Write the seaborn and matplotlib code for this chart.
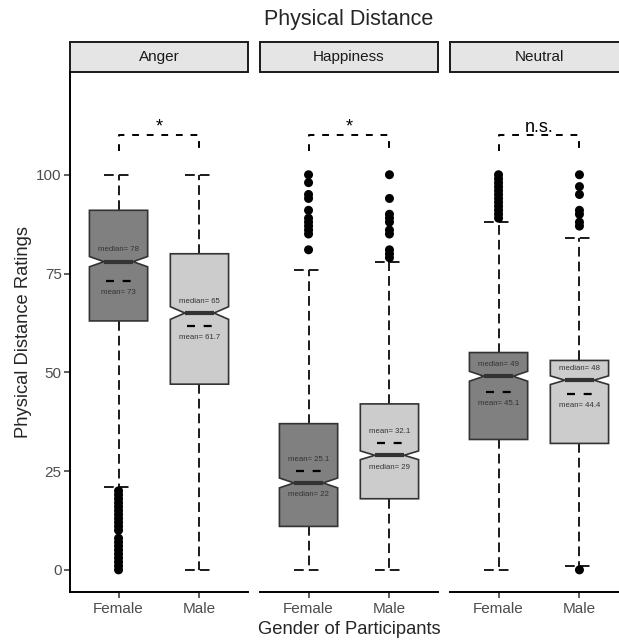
import numpy as np
import matplotlib
matplotlib.use('Agg')
import matplotlib.pyplot as plt
from matplotlib.patches import Rectangle
import seaborn as sns

# values (Physical Distance ratings)
emotions = ['Anger', 'Happiness', 'Neutral']
genders = ['Female', 'Male']
q1 = [[63, 47], [11, 18], [33, 32]]
med = [[78, 65], [22, 29], [49, 48]]
q3 = [[91, 80], [37, 42], [55, 53]]
whislo = [[21, 0], [0, 0], [0, 1]]
whishi = [[100, 100], [76, 78], [88, 84]]
means = [[73, 61.7], [25.1, 32.1], [45.1, 44.4]]
notch_half = [[1.3, 1.6], [1.25, 1.1], [1.25, 1.1]]
outliers = [
    [[0, 1, 2, 3, 4, 5, 6, 7, 8, 10, 11, 12, 13, 14, 15, 16, 17, 18, 19, 20], []],
    [[100, 98, 95, 94, 91, 89, 88, 87, 86, 85, 81], [100, 94, 90, 89, 88, 86, 85, 81, 80, 79]],
    [[100, 99, 98, 97, 96, 95, 94, 93, 92, 91, 90, 89], [100, 97, 95, 91, 90, 88, 87, 0]],
]
sig_labels = ['*', '*', 'n.s.']

box_colors = ['#808080', '#cccccc']

sns.set_theme(style='white')
plt.rcParams['font.family'] = ['Liberation Sans', 'DejaVu Sans']

W, H = 619, 642
fig = plt.figure(figsize=(W / 100, H / 100), dpi=100)
fig.patch.set_facecolor('white')

panel_left = [70, 260, 450]
panel_w, top_px, bot_px = 178, 72, 592
strip_h = 30

for i, emo in enumerate(emotions):
    ax = fig.add_axes([panel_left[i] / W, (H - bot_px) / H, panel_w / W, (bot_px - top_px) / H])
    ax.set_facecolor('white')
    pos = [1, 2]
    stats = []
    for j in range(2):
        stats.append(dict(med=med[i][j], q1=q1[i][j], q3=q3[i][j],
                          whislo=whislo[i][j], whishi=whishi[i][j], fliers=[],
                          cilo=med[i][j] - notch_half[i][j], cihi=med[i][j] + notch_half[i][j]))
    dash = (0, (5, 2.6))
    bp = ax.bxp(stats, positions=pos, widths=0.72, shownotches=True, patch_artist=True,
                showfliers=False, capwidths=0.35,
                whiskerprops=dict(color='#1a1a1a', lw=1.4, ls=dash),
                capprops=dict(color='#1a1a1a', lw=1.4, ls=dash),
                boxprops=dict(edgecolor='#333333', lw=1.2),
                medianprops=dict(color='#333333', lw=3))
    for patch, c in zip(bp['boxes'], box_colors):
        patch.set_facecolor(c)
        patch.set_zorder(3)
    for ln in bp['medians']:
        ln.set_zorder(4)

    # outliers
    xs, ys = [], []
    for j in range(2):
        xs += [pos[j]] * len(outliers[i][j])
        ys += outliers[i][j]
    if xs:
        sns.scatterplot(x=xs, y=ys, ax=ax, color='black', s=42, edgecolor='none', zorder=5)

    # mean dashes and labels
    for j in range(2):
        x, m, md = pos[j], means[i][j], med[i][j]
        ax.hlines(m, x - 0.158, x + 0.158, colors='black', lw=1.6,
                  linestyles=[(0, (3.6, 3.9))], zorder=6)
        if m > md:
            ym_txt, ymed_txt = m + 2.9, md - 3
        else:
            ym_txt, ymed_txt = m - 2.9, md + 3
        ax.text(x, ym_txt, 'mean= %g' % m, ha='center', va='center', fontsize=5.6,
                color='#333333', zorder=7)
        ax.text(x, ymed_txt, 'median= %g' % md, ha='center', va='center', fontsize=5.6,
                color='#333333', zorder=7)

    # significance bracket
    ax.plot([1, 1, 2, 2], [106, 110, 110, 106], color='black', lw=1.4, ls=(0, (3.5, 4)))
    ax.text(1.5, 110.9, sig_labels[i], ha='center', va='baseline', fontsize=13, color='black')

    ax.set_xlim(0.4, 2.6)
    ax.set_ylim(-5.6, 126)
    ax.set_xticks(pos)
    ax.set_xticklabels(genders)
    ax.set_yticks([0, 25, 50, 75, 100])
    ax.tick_params(axis='x', length=4, width=1.1, color='#333333', labelsize=11,
                   labelcolor='#4d4d4d', pad=3, bottom=True)
    for s in ['top', 'right']:
        ax.spines[s].set_visible(False)
    ax.spines['bottom'].set_color('black')
    ax.spines['bottom'].set_linewidth(1.4)
    if i == 0:
        ax.spines['left'].set_color('black')
        ax.spines['left'].set_linewidth(1.4)
        ax.tick_params(axis='y', length=4, width=1.1, color='#333333', labelsize=11,
                       labelcolor='#4d4d4d', pad=2, left=True)
    else:
        ax.spines['left'].set_visible(False)
        ax.tick_params(axis='y', left=False, labelleft=False)
    ax.grid(False)

    # facet strip
    ax.add_patch(Rectangle((0, 1), 1, strip_h / (bot_px - top_px), transform=ax.transAxes,
                           facecolor='#e5e5e5', edgecolor='#1a1a1a', lw=1.4, clip_on=False))
    ax.text(0.5, 1 + strip_h / 2 / (bot_px - top_px), emo, transform=ax.transAxes,
            ha='center', va='center', fontsize=11, color='#1a1a1a')

fig.text(349 / W, 1 - 19 / H, 'Physical Distance', ha='center', va='center', fontsize=15.5)
fig.text(349 / W, 1 - 629 / H, 'Gender of Participants', ha='center', va='center', fontsize=13.2)
fig.text(24 / W, 1 - 332 / H, 'Physical Distance Ratings', ha='center', va='center',
         rotation=90, fontsize=13.2)

fig.savefig('out.png', dpi=100)
